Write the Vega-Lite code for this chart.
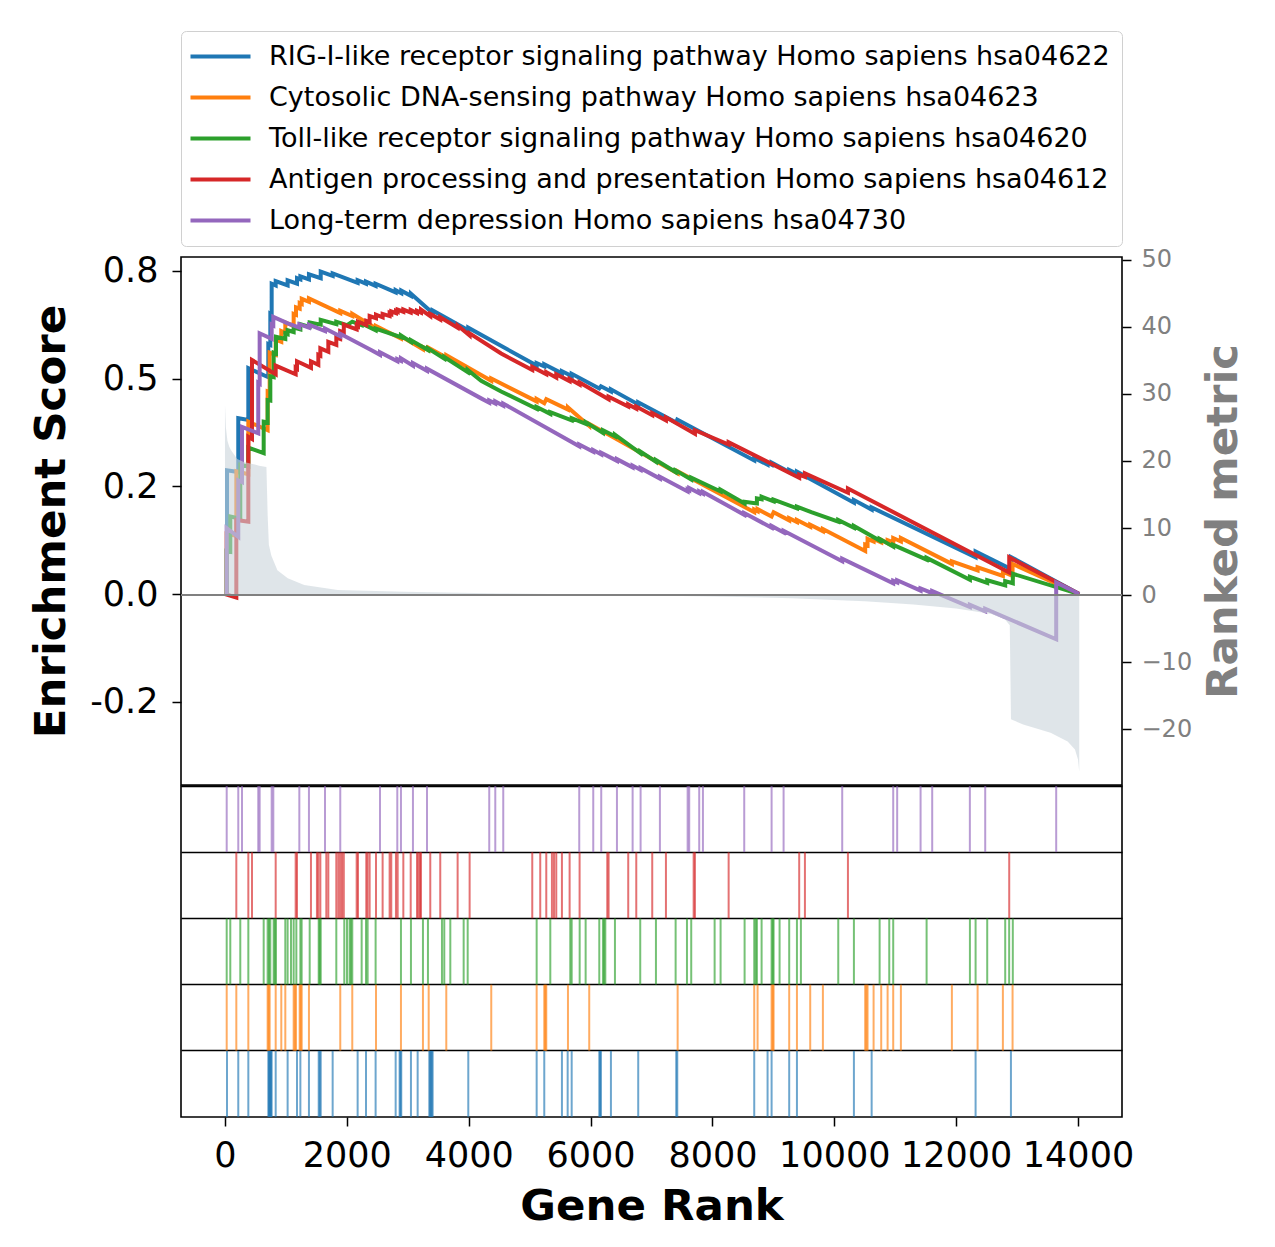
{
"$schema": "https://vega.github.io/schema/vega-lite/v6.json",
"background": "white",
"padding": {"left": 28, "top": 30, "right": 5, "bottom": 5},
"config": {
  "font": "DejaVu Sans",
  "view": {"stroke": "black", "strokeWidth": 1.6},
  "axis": {"domain": false, "grid": false, "labelFont": "DejaVu Sans", "titleFont": "DejaVu Sans", "labelFontSize": 35, "titleFontSize": 43.5, "titleFontWeight": "bold", "labelColor": "black", "titleColor": "black", "tickColor": "black", "tickSize": 9, "tickWidth": 1.5},
  "legend": {"labelFont": "DejaVu Sans"}
},
"bounds": "flush",
"spacing": 1,
"datasets": {
"metric": [
{"r":0,"m":28.3},{"r":15,"m":25},{"r":40,"m":23},{"r":70,"m":22.1},{"r":100,"m":21.6},{"r":200,"m":20.3},{"r":300,"m":19.9},{"r":430,"m":19.6},{"r":560,"m":19.3},{"r":680,"m":19.1},{"r":700,"m":12},{"r":720,"m":7.5},{"r":760,"m":5.9},{"r":860,"m":3.7},{"r":1030,"m":2.5},{"r":1300,"m":1.5},{"r":1850,"m":0.75},{"r":2940,"m":0.5},{"r":4530,"m":0.25},{"r":6000,"m":0.1},{"r":7000,"m":-0.05},{"r":8000,"m":-0.2},{"r":9300,"m":-0.45},{"r":10500,"m":-0.9},{"r":11300,"m":-1.4},{"r":12000,"m":-2.0},{"r":12580,"m":-2.8},{"r":12800,"m":-3.6},{"r":12880,"m":-4.5},{"r":12900,"m":-18.5},{"r":13100,"m":-19.3},{"r":13550,"m":-20.5},{"r":13830,"m":-21.8},{"r":13950,"m":-23},{"r":14000,"m":-24.5},{"r":14020,"m":-26.3}
],
"es": [
{"s":"hsa04622","r":0,"es":0},{"s":"hsa04622","r":33,"es":0},{"s":"hsa04622","r":33,"es":0.287},{"s":"hsa04622","r":218,"es":0.283},{"s":"hsa04622","r":218,"es":0.408},{"s":"hsa04622","r":383,"es":0.404},{"s":"hsa04622","r":383,"es":0.524},{"s":"hsa04622","r":711,"es":0.503},{"s":"hsa04622","r":711,"es":0.58},{"s":"hsa04622","r":744,"es":0.578},{"s":"hsa04622","r":744,"es":0.65},{"s":"hsa04622","r":766,"es":0.648},{"s":"hsa04622","r":766,"es":0.72},{"s":"hsa04622","r":832,"es":0.716},{"s":"hsa04622","r":832,"es":0.726},{"s":"hsa04622","r":1028,"es":0.716},{"s":"hsa04622","r":1028,"es":0.728},{"s":"hsa04622","r":1182,"es":0.72},{"s":"hsa04622","r":1182,"es":0.733},{"s":"hsa04622","r":1237,"es":0.73},{"s":"hsa04622","r":1237,"es":0.737},{"s":"hsa04622","r":1378,"es":0.73},{"s":"hsa04622","r":1378,"es":0.742},{"s":"hsa04622","r":1571,"es":0.733},{"s":"hsa04622","r":1571,"es":0.748},{"s":"hsa04622","r":1767,"es":0.738},{"s":"hsa04622","r":1767,"es":0.744},{"s":"hsa04622","r":2177,"es":0.722},{"s":"hsa04622","r":2177,"es":0.728},{"s":"hsa04622","r":2314,"es":0.72},{"s":"hsa04622","r":2314,"es":0.725},{"s":"hsa04622","r":2472,"es":0.715},{"s":"hsa04622","r":2472,"es":0.72},{"s":"hsa04622","r":2801,"es":0.7},{"s":"hsa04622","r":2801,"es":0.705},{"s":"hsa04622","r":2893,"es":0.698},{"s":"hsa04622","r":2893,"es":0.704},{"s":"hsa04622","r":3052,"es":0.692},{"s":"hsa04622","r":3052,"es":0.697},{"s":"hsa04622","r":3408,"es":0.652},{"s":"hsa04622","r":3408,"es":0.658},{"s":"hsa04622","r":3993,"es":0.612},{"s":"hsa04622","r":3993,"es":0.618},{"s":"hsa04622","r":5115,"es":0.53},{"s":"hsa04622","r":5115,"es":0.536},{"s":"hsa04622","r":5240,"es":0.528},{"s":"hsa04622","r":5240,"es":0.533},{"s":"hsa04622","r":5530,"es":0.512},{"s":"hsa04622","r":5530,"es":0.517},{"s":"hsa04622","r":5690,"es":0.506},{"s":"hsa04622","r":5690,"es":0.511},{"s":"hsa04622","r":6143,"es":0.477},{"s":"hsa04622","r":6170,"es":0.482},{"s":"hsa04622","r":6334,"es":0.47},{"s":"hsa04622","r":6334,"es":0.475},{"s":"hsa04622","r":6782,"es":0.44},{"s":"hsa04622","r":6782,"es":0.445},{"s":"hsa04622","r":7406,"es":0.398},{"s":"hsa04622","r":7423,"es":0.405},{"s":"hsa04622","r":8686,"es":0.31},{"s":"hsa04622","r":8686,"es":0.316},{"s":"hsa04622","r":8905,"es":0.3},{"s":"hsa04622","r":8905,"es":0.305},{"s":"hsa04622","r":8971,"es":0.3},{"s":"hsa04622","r":8971,"es":0.305},{"s":"hsa04622","r":9260,"es":0.283},{"s":"hsa04622","r":9260,"es":0.288},{"s":"hsa04622","r":9387,"es":0.279},{"s":"hsa04622","r":9387,"es":0.284},{"s":"hsa04622","r":10322,"es":0.212},{"s":"hsa04622","r":10322,"es":0.218},{"s":"hsa04622","r":10613,"es":0.196},{"s":"hsa04622","r":10613,"es":0.201},{"s":"hsa04622","r":12319,"es":0.085},{"s":"hsa04622","r":12319,"es":0.099},{"s":"hsa04622","r":12899,"es":0.058},{"s":"hsa04622","r":12899,"es":0.086},{"s":"hsa04622","r":14020,"es":0},

{"s":"hsa04623","r":0,"es":0},{"s":"hsa04623","r":28,"es":0},{"s":"hsa04623","r":28,"es":0.14},{"s":"hsa04623","r":186,"es":0.135},{"s":"hsa04623","r":186,"es":0.285},{"s":"hsa04623","r":383,"es":0.278},{"s":"hsa04623","r":383,"es":0.4},{"s":"hsa04623","r":700,"es":0.38},{"s":"hsa04623","r":700,"es":0.47},{"s":"hsa04623","r":733,"es":0.468},{"s":"hsa04623","r":733,"es":0.56},{"s":"hsa04623","r":832,"es":0.555},{"s":"hsa04623","r":832,"es":0.59},{"s":"hsa04623","r":924,"es":0.585},{"s":"hsa04623","r":924,"es":0.61},{"s":"hsa04623","r":990,"es":0.606},{"s":"hsa04623","r":990,"es":0.63},{"s":"hsa04623","r":1127,"es":0.622},{"s":"hsa04623","r":1127,"es":0.65},{"s":"hsa04623","r":1165,"es":0.648},{"s":"hsa04623","r":1165,"es":0.665},{"s":"hsa04623","r":1226,"es":0.662},{"s":"hsa04623","r":1226,"es":0.675},{"s":"hsa04623","r":1259,"es":0.673},{"s":"hsa04623","r":1259,"es":0.685},{"s":"hsa04623","r":1378,"es":0.678},{"s":"hsa04623","r":1378,"es":0.686},{"s":"hsa04623","r":1892,"es":0.652},{"s":"hsa04623","r":1892,"es":0.657},{"s":"hsa04623","r":2089,"es":0.645},{"s":"hsa04623","r":2089,"es":0.65},{"s":"hsa04623","r":2478,"es":0.617},{"s":"hsa04623","r":2478,"es":0.622},{"s":"hsa04623","r":2888,"es":0.593},{"s":"hsa04623","r":2888,"es":0.598},{"s":"hsa04623","r":3249,"es":0.568},{"s":"hsa04623","r":3249,"es":0.573},{"s":"hsa04623","r":3343,"es":0.566},{"s":"hsa04623","r":3343,"es":0.571},{"s":"hsa04623","r":3632,"es":0.549},{"s":"hsa04623","r":3632,"es":0.554},{"s":"hsa04623","r":4370,"es":0.495},{"s":"hsa04623","r":4370,"es":0.5},{"s":"hsa04623","r":5115,"es":0.447},{"s":"hsa04623","r":5115,"es":0.453},{"s":"hsa04623","r":5240,"es":0.443},{"s":"hsa04623","r":5273,"es":0.452},{"s":"hsa04623","r":5629,"es":0.428},{"s":"hsa04623","r":5629,"es":0.433},{"s":"hsa04623","r":5978,"es":0.39},{"s":"hsa04623","r":5978,"es":0.395},{"s":"hsa04623","r":7429,"es":0.28},{"s":"hsa04623","r":7429,"es":0.285},{"s":"hsa04623","r":8686,"es":0.19},{"s":"hsa04623","r":8686,"es":0.196},{"s":"hsa04623","r":8741,"es":0.192},{"s":"hsa04623","r":8741,"es":0.197},{"s":"hsa04623","r":8971,"es":0.18},{"s":"hsa04623","r":9004,"es":0.19},{"s":"hsa04623","r":9260,"es":0.171},{"s":"hsa04623","r":9260,"es":0.176},{"s":"hsa04623","r":9387,"es":0.167},{"s":"hsa04623","r":9387,"es":0.172},{"s":"hsa04623","r":9605,"es":0.156},{"s":"hsa04623","r":9605,"es":0.161},{"s":"hsa04623","r":9813,"es":0.146},{"s":"hsa04623","r":9813,"es":0.151},{"s":"hsa04623","r":10507,"es":0.1},{"s":"hsa04623","r":10507,"es":0.115},{"s":"hsa04623","r":10546,"es":0.113},{"s":"hsa04623","r":10546,"es":0.128},{"s":"hsa04623","r":10645,"es":0.122},{"s":"hsa04623","r":10645,"es":0.128},{"s":"hsa04623","r":10770,"es":0.12},{"s":"hsa04623","r":10770,"es":0.126},{"s":"hsa04623","r":10875,"es":0.118},{"s":"hsa04623","r":10875,"es":0.125},{"s":"hsa04623","r":10967,"es":0.12},{"s":"hsa04623","r":10967,"es":0.13},{"s":"hsa04623","r":11093,"es":0.122},{"s":"hsa04623","r":11093,"es":0.13},{"s":"hsa04623","r":11930,"es":0.07},{"s":"hsa04623","r":11930,"es":0.076},{"s":"hsa04623","r":12352,"es":0.055},{"s":"hsa04623","r":12352,"es":0.062},{"s":"hsa04623","r":12767,"es":0.042},{"s":"hsa04623","r":12767,"es":0.052},{"s":"hsa04623","r":12926,"es":0.042},{"s":"hsa04623","r":12926,"es":0.07},{"s":"hsa04623","r":14020,"es":0},

{"s":"hsa04620","r":0,"es":0},{"s":"hsa04620","r":28,"es":0},{"s":"hsa04620","r":28,"es":0.1},{"s":"hsa04620","r":87,"es":0.098},{"s":"hsa04620","r":87,"es":0.18},{"s":"hsa04620","r":251,"es":0.175},{"s":"hsa04620","r":251,"es":0.3},{"s":"hsa04620","r":383,"es":0.296},{"s":"hsa04620","r":383,"es":0.34},{"s":"hsa04620","r":635,"es":0.327},{"s":"hsa04620","r":635,"es":0.4},{"s":"hsa04620","r":700,"es":0.398},{"s":"hsa04620","r":700,"es":0.45},{"s":"hsa04620","r":744,"es":0.449},{"s":"hsa04620","r":744,"es":0.505},{"s":"hsa04620","r":799,"es":0.503},{"s":"hsa04620","r":799,"es":0.56},{"s":"hsa04620","r":837,"es":0.558},{"s":"hsa04620","r":837,"es":0.597},{"s":"hsa04620","r":990,"es":0.592},{"s":"hsa04620","r":990,"es":0.605},{"s":"hsa04620","r":1028,"es":0.603},{"s":"hsa04620","r":1028,"es":0.612},{"s":"hsa04620","r":1127,"es":0.608},{"s":"hsa04620","r":1127,"es":0.618},{"s":"hsa04620","r":1237,"es":0.614},{"s":"hsa04620","r":1237,"es":0.626},{"s":"hsa04620","r":1390,"es":0.62},{"s":"hsa04620","r":1390,"es":0.63},{"s":"hsa04620","r":1571,"es":0.625},{"s":"hsa04620","r":1571,"es":0.636},{"s":"hsa04620","r":1827,"es":0.626},{"s":"hsa04620","r":1827,"es":0.632},{"s":"hsa04620","r":2002,"es":0.624},{"s":"hsa04620","r":2089,"es":0.632},{"s":"hsa04620","r":2243,"es":0.624},{"s":"hsa04620","r":2243,"es":0.628},{"s":"hsa04620","r":2472,"es":0.612},{"s":"hsa04620","r":2472,"es":0.616},{"s":"hsa04620","r":2888,"es":0.596},{"s":"hsa04620","r":2888,"es":0.6},{"s":"hsa04620","r":3052,"es":0.585},{"s":"hsa04620","r":3052,"es":0.589},{"s":"hsa04620","r":3331,"es":0.566},{"s":"hsa04620","r":3331,"es":0.57},{"s":"hsa04620","r":3599,"es":0.546},{"s":"hsa04620","r":3599,"es":0.55},{"s":"hsa04620","r":3983,"es":0.515},{"s":"hsa04620","r":3983,"es":0.52},{"s":"hsa04620","r":4204,"es":0.495},{"s":"hsa04620","r":4532,"es":0.47},{"s":"hsa04620","r":5115,"es":0.43},{"s":"hsa04620","r":5115,"es":0.434},{"s":"hsa04620","r":5339,"es":0.418},{"s":"hsa04620","r":5339,"es":0.422},{"s":"hsa04620","r":5690,"es":0.403},{"s":"hsa04620","r":5690,"es":0.408},{"s":"hsa04620","r":5919,"es":0.395},{"s":"hsa04620","r":5919,"es":0.399},{"s":"hsa04620","r":6203,"es":0.374},{"s":"hsa04620","r":6203,"es":0.38},{"s":"hsa04620","r":6400,"es":0.366},{"s":"hsa04620","r":6400,"es":0.37},{"s":"hsa04620","r":6815,"es":0.327},{"s":"hsa04620","r":6815,"es":0.331},{"s":"hsa04620","r":7073,"es":0.307},{"s":"hsa04620","r":7073,"es":0.311},{"s":"hsa04620","r":7396,"es":0.283},{"s":"hsa04620","r":7396,"es":0.287},{"s":"hsa04620","r":7652,"es":0.266},{"s":"hsa04620","r":7652,"es":0.27},{"s":"hsa04620","r":8134,"es":0.238},{"s":"hsa04620","r":8134,"es":0.242},{"s":"hsa04620","r":8528,"es":0.21},{"s":"hsa04620","r":8528,"es":0.214},{"s":"hsa04620","r":8730,"es":0.21},{"s":"hsa04620","r":8730,"es":0.222},{"s":"hsa04620","r":8807,"es":0.22},{"s":"hsa04620","r":8807,"es":0.226},{"s":"hsa04620","r":9004,"es":0.215},{"s":"hsa04620","r":9004,"es":0.219},{"s":"hsa04620","r":9387,"es":0.199},{"s":"hsa04620","r":9387,"es":0.203},{"s":"hsa04620","r":9622,"es":0.19},{"s":"hsa04620","r":10065,"es":0.168},{"s":"hsa04620","r":10065,"es":0.172},{"s":"hsa04620","r":10322,"es":0.154},{"s":"hsa04620","r":10322,"es":0.158},{"s":"hsa04620","r":10744,"es":0.124},{"s":"hsa04620","r":10744,"es":0.128},{"s":"hsa04620","r":10967,"es":0.11},{"s":"hsa04620","r":10967,"es":0.114},{"s":"hsa04620","r":11515,"es":0.08},{"s":"hsa04620","r":11515,"es":0.084},{"s":"hsa04620","r":12226,"es":0.033},{"s":"hsa04620","r":12226,"es":0.04},{"s":"hsa04620","r":12510,"es":0.026},{"s":"hsa04620","r":12510,"es":0.032},{"s":"hsa04620","r":12805,"es":0.02},{"s":"hsa04620","r":12805,"es":0.03},{"s":"hsa04620","r":12930,"es":0.025},{"s":"hsa04620","r":12930,"es":0.047},{"s":"hsa04620","r":14020,"es":0},

{"s":"hsa04612","r":0,"es":0},{"s":"hsa04612","r":186,"es":-0.008},{"s":"hsa04612","r":186,"es":0.172},{"s":"hsa04612","r":383,"es":0.168},{"s":"hsa04612","r":383,"es":0.365},{"s":"hsa04612","r":443,"es":0.36},{"s":"hsa04612","r":443,"es":0.543},{"s":"hsa04612","r":832,"es":0.51},{"s":"hsa04612","r":832,"es":0.53},{"s":"hsa04612","r":1160,"es":0.51},{"s":"hsa04612","r":1160,"es":0.525},{"s":"hsa04612","r":1182,"es":0.523},{"s":"hsa04612","r":1182,"es":0.54},{"s":"hsa04612","r":1411,"es":0.525},{"s":"hsa04612","r":1411,"es":0.54},{"s":"hsa04612","r":1532,"es":0.532},{"s":"hsa04612","r":1532,"es":0.555},{"s":"hsa04612","r":1565,"es":0.553},{"s":"hsa04612","r":1565,"es":0.57},{"s":"hsa04612","r":1696,"es":0.562},{"s":"hsa04612","r":1696,"es":0.585},{"s":"hsa04612","r":1827,"es":0.578},{"s":"hsa04612","r":1827,"es":0.595},{"s":"hsa04612","r":1890,"es":0.592},{"s":"hsa04612","r":1890,"es":0.61},{"s":"hsa04612","r":1950,"es":0.607},{"s":"hsa04612","r":1950,"es":0.625},{"s":"hsa04612","r":2161,"es":0.614},{"s":"hsa04612","r":2161,"es":0.624},{"s":"hsa04612","r":2183,"es":0.622},{"s":"hsa04612","r":2183,"es":0.632},{"s":"hsa04612","r":2319,"es":0.624},{"s":"hsa04612","r":2319,"es":0.634},{"s":"hsa04612","r":2374,"es":0.631},{"s":"hsa04612","r":2374,"es":0.645},{"s":"hsa04612","r":2478,"es":0.64},{"s":"hsa04612","r":2478,"es":0.648},{"s":"hsa04612","r":2587,"es":0.642},{"s":"hsa04612","r":2587,"es":0.65},{"s":"hsa04612","r":2702,"es":0.645},{"s":"hsa04612","r":2702,"es":0.652},{"s":"hsa04612","r":2729,"es":0.65},{"s":"hsa04612","r":2729,"es":0.656},{"s":"hsa04612","r":2806,"es":0.652},{"s":"hsa04612","r":2806,"es":0.657},{"s":"hsa04612","r":2834,"es":0.655},{"s":"hsa04612","r":2834,"es":0.66},{"s":"hsa04612","r":2927,"es":0.655},{"s":"hsa04612","r":2927,"es":0.66},{"s":"hsa04612","r":3048,"es":0.653},{"s":"hsa04612","r":3048,"es":0.659},{"s":"hsa04612","r":3151,"es":0.652},{"s":"hsa04612","r":3151,"es":0.657},{"s":"hsa04612","r":3217,"es":0.653},{"s":"hsa04612","r":3217,"es":0.66},{"s":"hsa04612","r":3369,"es":0.645},{"s":"hsa04612","r":3369,"es":0.65},{"s":"hsa04612","r":3533,"es":0.637},{"s":"hsa04612","r":3533,"es":0.642},{"s":"hsa04612","r":3818,"es":0.618},{"s":"hsa04612","r":3818,"es":0.623},{"s":"hsa04612","r":4015,"es":0.6},{"s":"hsa04612","r":4015,"es":0.605},{"s":"hsa04612","r":4532,"es":0.558},{"s":"hsa04612","r":5043,"es":0.52},{"s":"hsa04612","r":5043,"es":0.527},{"s":"hsa04612","r":5273,"es":0.51},{"s":"hsa04612","r":5273,"es":0.515},{"s":"hsa04612","r":5437,"es":0.502},{"s":"hsa04612","r":5437,"es":0.51},{"s":"hsa04612","r":5656,"es":0.494},{"s":"hsa04612","r":5656,"es":0.499},{"s":"hsa04612","r":5820,"es":0.486},{"s":"hsa04612","r":5820,"es":0.491},{"s":"hsa04612","r":6296,"es":0.452},{"s":"hsa04612","r":6296,"es":0.458},{"s":"hsa04612","r":6618,"es":0.435},{"s":"hsa04612","r":6618,"es":0.44},{"s":"hsa04612","r":6750,"es":0.43},{"s":"hsa04612","r":6750,"es":0.435},{"s":"hsa04612","r":7012,"es":0.415},{"s":"hsa04612","r":7012,"es":0.42},{"s":"hsa04612","r":7237,"es":0.403},{"s":"hsa04612","r":7237,"es":0.41},{"s":"hsa04612","r":7713,"es":0.372},{"s":"hsa04612","r":7713,"es":0.38},{"s":"hsa04612","r":8266,"es":0.347},{"s":"hsa04612","r":8266,"es":0.352},{"s":"hsa04612","r":9424,"es":0.27},{"s":"hsa04612","r":9424,"es":0.277},{"s":"hsa04612","r":9518,"es":0.272},{"s":"hsa04612","r":9518,"es":0.28},{"s":"hsa04612","r":10224,"es":0.235},{"s":"hsa04612","r":10224,"es":0.245},{"s":"hsa04612","r":12871,"es":0.05},{"s":"hsa04612","r":12871,"es":0.085},{"s":"hsa04612","r":14020,"es":0},

{"s":"hsa04730","r":0,"es":0},{"s":"hsa04730","r":28,"es":0},{"s":"hsa04730","r":28,"es":0.153},{"s":"hsa04730","r":218,"es":0.133},{"s":"hsa04730","r":218,"es":0.264},{"s":"hsa04730","r":279,"es":0.26},{"s":"hsa04730","r":279,"es":0.388},{"s":"hsa04730","r":546,"es":0.373},{"s":"hsa04730","r":546,"es":0.49},{"s":"hsa04730","r":569,"es":0.488},{"s":"hsa04730","r":569,"es":0.605},{"s":"hsa04730","r":766,"es":0.592},{"s":"hsa04730","r":766,"es":0.625},{"s":"hsa04730","r":793,"es":0.623},{"s":"hsa04730","r":793,"es":0.643},{"s":"hsa04730","r":1030,"es":0.628},{"s":"hsa04730","r":1220,"es":0.618},{"s":"hsa04730","r":1220,"es":0.626},{"s":"hsa04730","r":1378,"es":0.618},{"s":"hsa04730","r":1378,"es":0.625},{"s":"hsa04730","r":1641,"es":0.61},{"s":"hsa04730","r":1641,"es":0.616},{"s":"hsa04730","r":1892,"es":0.598},{"s":"hsa04730","r":1892,"es":0.604},{"s":"hsa04730","r":2398,"es":0.566},{"s":"hsa04730","r":2544,"es":0.555},{"s":"hsa04730","r":2544,"es":0.561},{"s":"hsa04730","r":2828,"es":0.54},{"s":"hsa04730","r":2828,"es":0.545},{"s":"hsa04730","r":2888,"es":0.541},{"s":"hsa04730","r":2888,"es":0.547},{"s":"hsa04730","r":3085,"es":0.53},{"s":"hsa04730","r":3085,"es":0.536},{"s":"hsa04730","r":3315,"es":0.518},{"s":"hsa04730","r":3315,"es":0.523},{"s":"hsa04730","r":4204,"es":0.454},{"s":"hsa04730","r":4337,"es":0.444},{"s":"hsa04730","r":4337,"es":0.449},{"s":"hsa04730","r":4436,"es":0.442},{"s":"hsa04730","r":4436,"es":0.447},{"s":"hsa04730","r":4567,"es":0.437},{"s":"hsa04730","r":4567,"es":0.442},{"s":"hsa04730","r":5814,"es":0.343},{"s":"hsa04730","r":5814,"es":0.347},{"s":"hsa04730","r":6044,"es":0.33},{"s":"hsa04730","r":6044,"es":0.334},{"s":"hsa04730","r":6175,"es":0.324},{"s":"hsa04730","r":6175,"es":0.328},{"s":"hsa04730","r":6433,"es":0.309},{"s":"hsa04730","r":6433,"es":0.313},{"s":"hsa04730","r":6690,"es":0.294},{"s":"hsa04730","r":6690,"es":0.298},{"s":"hsa04730","r":6821,"es":0.288},{"s":"hsa04730","r":6821,"es":0.292},{"s":"hsa04730","r":7138,"es":0.268},{"s":"hsa04730","r":7138,"es":0.272},{"s":"hsa04730","r":7593,"es":0.238},{"s":"hsa04730","r":7593,"es":0.243},{"s":"hsa04730","r":7619,"es":0.241},{"s":"hsa04730","r":7619,"es":0.246},{"s":"hsa04730","r":7783,"es":0.234},{"s":"hsa04730","r":7783,"es":0.238},{"s":"hsa04730","r":7844,"es":0.233},{"s":"hsa04730","r":7844,"es":0.237},{"s":"hsa04730","r":8522,"es":0.184},{"s":"hsa04730","r":8522,"es":0.188},{"s":"hsa04730","r":8971,"es":0.154},{"s":"hsa04730","r":8971,"es":0.158},{"s":"hsa04730","r":9168,"es":0.143},{"s":"hsa04730","r":9168,"es":0.147},{"s":"hsa04730","r":10130,"es":0.076},{"s":"hsa04730","r":10130,"es":0.082},{"s":"hsa04730","r":10967,"es":0.025},{"s":"hsa04730","r":10967,"es":0.031},{"s":"hsa04730","r":11032,"es":0.027},{"s":"hsa04730","r":11032,"es":0.032},{"s":"hsa04730","r":11416,"es":0.008},{"s":"hsa04730","r":11416,"es":0.013},{"s":"hsa04730","r":11607,"es":0.002},{"s":"hsa04730","r":11607,"es":0.007},{"s":"hsa04730","r":12225,"es":-0.03},{"s":"hsa04730","r":12225,"es":-0.025},{"s":"hsa04730","r":12477,"es":-0.04},{"s":"hsa04730","r":12477,"es":-0.034},{"s":"hsa04730","r":13642,"es":-0.105},{"s":"hsa04730","r":13642,"es":0.027},{"s":"hsa04730","r":14020,"es":0}
],
"hits": [
{"s":"hsa04730","r":28},{"s":"hsa04730","r":218},{"s":"hsa04730","r":279},{"s":"hsa04730","r":546},{"s":"hsa04730","r":569},{"s":"hsa04730","r":766},{"s":"hsa04730","r":793},{"s":"hsa04730","r":1220},{"s":"hsa04730","r":1378},{"s":"hsa04730","r":1641},{"s":"hsa04730","r":1892},{"s":"hsa04730","r":2544},{"s":"hsa04730","r":2828},{"s":"hsa04730","r":2888},{"s":"hsa04730","r":3085},{"s":"hsa04730","r":3315},{"s":"hsa04730","r":4337},{"s":"hsa04730","r":4436},{"s":"hsa04730","r":4567},{"s":"hsa04730","r":5814},{"s":"hsa04730","r":6044},{"s":"hsa04730","r":6175},{"s":"hsa04730","r":6433},{"s":"hsa04730","r":6690},{"s":"hsa04730","r":6821},{"s":"hsa04730","r":7138},{"s":"hsa04730","r":7593},{"s":"hsa04730","r":7619},{"s":"hsa04730","r":7783},{"s":"hsa04730","r":7844},{"s":"hsa04730","r":8522},{"s":"hsa04730","r":8971},{"s":"hsa04730","r":9168},{"s":"hsa04730","r":10130},{"s":"hsa04730","r":10967},{"s":"hsa04730","r":11032},{"s":"hsa04730","r":11416},{"s":"hsa04730","r":11607},{"s":"hsa04730","r":12225},{"s":"hsa04730","r":12477},{"s":"hsa04730","r":13642},
{"s":"hsa04612","r":186},{"s":"hsa04612","r":383},{"s":"hsa04612","r":443},{"s":"hsa04612","r":832},{"s":"hsa04612","r":1160},{"s":"hsa04612","r":1182},{"s":"hsa04612","r":1411},{"s":"hsa04612","r":1509},{"s":"hsa04612","r":1532},{"s":"hsa04612","r":1565},{"s":"hsa04612","r":1663},{"s":"hsa04612","r":1696},{"s":"hsa04612","r":1827},{"s":"hsa04612","r":1860},{"s":"hsa04612","r":1890},{"s":"hsa04612","r":1920},{"s":"hsa04612","r":1950},{"s":"hsa04612","r":2161},{"s":"hsa04612","r":2183},{"s":"hsa04612","r":2319},{"s":"hsa04612","r":2340},{"s":"hsa04612","r":2374},{"s":"hsa04612","r":2478},{"s":"hsa04612","r":2587},{"s":"hsa04612","r":2702},{"s":"hsa04612","r":2729},{"s":"hsa04612","r":2806},{"s":"hsa04612","r":2834},{"s":"hsa04612","r":2927},{"s":"hsa04612","r":3048},{"s":"hsa04612","r":3151},{"s":"hsa04612","r":3175},{"s":"hsa04612","r":3200},{"s":"hsa04612","r":3217},{"s":"hsa04612","r":3369},{"s":"hsa04612","r":3533},{"s":"hsa04612","r":3818},{"s":"hsa04612","r":4015},{"s":"hsa04612","r":5043},{"s":"hsa04612","r":5174},{"s":"hsa04612","r":5273},{"s":"hsa04612","r":5366},{"s":"hsa04612","r":5400},{"s":"hsa04612","r":5437},{"s":"hsa04612","r":5530},{"s":"hsa04612","r":5656},{"s":"hsa04612","r":5820},{"s":"hsa04612","r":6274},{"s":"hsa04612","r":6296},{"s":"hsa04612","r":6618},{"s":"hsa04612","r":6750},{"s":"hsa04612","r":7012},{"s":"hsa04612","r":7237},{"s":"hsa04612","r":7692},{"s":"hsa04612","r":7713},{"s":"hsa04612","r":8266},{"s":"hsa04612","r":9424},{"s":"hsa04612","r":9518},{"s":"hsa04612","r":10224},{"s":"hsa04612","r":12871},
{"s":"hsa04620","r":28},{"s":"hsa04620","r":87},{"s":"hsa04620","r":251},{"s":"hsa04620","r":383},{"s":"hsa04620","r":635},{"s":"hsa04620","r":700},{"s":"hsa04620","r":722},{"s":"hsa04620","r":744},{"s":"hsa04620","r":799},{"s":"hsa04620","r":818},{"s":"hsa04620","r":837},{"s":"hsa04620","r":990},{"s":"hsa04620","r":1028},{"s":"hsa04620","r":1083},{"s":"hsa04620","r":1127},{"s":"hsa04620","r":1171},{"s":"hsa04620","r":1237},{"s":"hsa04620","r":1258},{"s":"hsa04620","r":1390},{"s":"hsa04620","r":1538},{"s":"hsa04620","r":1555},{"s":"hsa04620","r":1571},{"s":"hsa04620","r":1827},{"s":"hsa04620","r":1958},{"s":"hsa04620","r":2002},{"s":"hsa04620","r":2045},{"s":"hsa04620","r":2067},{"s":"hsa04620","r":2089},{"s":"hsa04620","r":2243},{"s":"hsa04620","r":2314},{"s":"hsa04620","r":2341},{"s":"hsa04620","r":2472},{"s":"hsa04620","r":2888},{"s":"hsa04620","r":3052},{"s":"hsa04620","r":3249},{"s":"hsa04620","r":3331},{"s":"hsa04620","r":3561},{"s":"hsa04620","r":3599},{"s":"hsa04620","r":3698},{"s":"hsa04620","r":3917},{"s":"hsa04620","r":3983},{"s":"hsa04620","r":5115},{"s":"hsa04620","r":5339},{"s":"hsa04620","r":5667},{"s":"hsa04620","r":5690},{"s":"hsa04620","r":5821},{"s":"hsa04620","r":5919},{"s":"hsa04620","r":6143},{"s":"hsa04620","r":6203},{"s":"hsa04620","r":6222},{"s":"hsa04620","r":6242},{"s":"hsa04620","r":6400},{"s":"hsa04620","r":6815},{"s":"hsa04620","r":7073},{"s":"hsa04620","r":7396},{"s":"hsa04620","r":7582},{"s":"hsa04620","r":7652},{"s":"hsa04620","r":8036},{"s":"hsa04620","r":8134},{"s":"hsa04620","r":8528},{"s":"hsa04620","r":8686},{"s":"hsa04620","r":8710},{"s":"hsa04620","r":8730},{"s":"hsa04620","r":8807},{"s":"hsa04620","r":8971},{"s":"hsa04620","r":8990},{"s":"hsa04620","r":9004},{"s":"hsa04620","r":9102},{"s":"hsa04620","r":9260},{"s":"hsa04620","r":9387},{"s":"hsa04620","r":9452},{"s":"hsa04620","r":10065},{"s":"hsa04620","r":10322},{"s":"hsa04620","r":10744},{"s":"hsa04620","r":10902},{"s":"hsa04620","r":10967},{"s":"hsa04620","r":11515},{"s":"hsa04620","r":12226},{"s":"hsa04620","r":12319},{"s":"hsa04620","r":12510},{"s":"hsa04620","r":12805},{"s":"hsa04620","r":12870},{"s":"hsa04620","r":12930},
{"s":"hsa04623","r":28},{"s":"hsa04623","r":186},{"s":"hsa04623","r":383},{"s":"hsa04623","r":700},{"s":"hsa04623","r":717},{"s":"hsa04623","r":733},{"s":"hsa04623","r":832},{"s":"hsa04623","r":924},{"s":"hsa04623","r":990},{"s":"hsa04623","r":1127},{"s":"hsa04623","r":1146},{"s":"hsa04623","r":1165},{"s":"hsa04623","r":1226},{"s":"hsa04623","r":1243},{"s":"hsa04623","r":1259},{"s":"hsa04623","r":1378},{"s":"hsa04623","r":1892},{"s":"hsa04623","r":2089},{"s":"hsa04623","r":2478},{"s":"hsa04623","r":2888},{"s":"hsa04623","r":3249},{"s":"hsa04623","r":3343},{"s":"hsa04623","r":3632},{"s":"hsa04623","r":4370},{"s":"hsa04623","r":5115},{"s":"hsa04623","r":5240},{"s":"hsa04623","r":5257},{"s":"hsa04623","r":5273},{"s":"hsa04623","r":5629},{"s":"hsa04623","r":5978},{"s":"hsa04623","r":7429},{"s":"hsa04623","r":8686},{"s":"hsa04623","r":8741},{"s":"hsa04623","r":8971},{"s":"hsa04623","r":8990},{"s":"hsa04623","r":9004},{"s":"hsa04623","r":9260},{"s":"hsa04623","r":9387},{"s":"hsa04623","r":9605},{"s":"hsa04623","r":9813},{"s":"hsa04623","r":10507},{"s":"hsa04623","r":10527},{"s":"hsa04623","r":10546},{"s":"hsa04623","r":10645},{"s":"hsa04623","r":10770},{"s":"hsa04623","r":10875},{"s":"hsa04623","r":10967},{"s":"hsa04623","r":11093},{"s":"hsa04623","r":11930},{"s":"hsa04623","r":12352},{"s":"hsa04623","r":12767},{"s":"hsa04623","r":12926},
{"s":"hsa04622","r":33},{"s":"hsa04622","r":218},{"s":"hsa04622","r":383},{"s":"hsa04622","r":711},{"s":"hsa04622","r":722},{"s":"hsa04622","r":733},{"s":"hsa04622","r":744},{"s":"hsa04622","r":755},{"s":"hsa04622","r":766},{"s":"hsa04622","r":832},{"s":"hsa04622","r":1028},{"s":"hsa04622","r":1182},{"s":"hsa04622","r":1237},{"s":"hsa04622","r":1378},{"s":"hsa04622","r":1538},{"s":"hsa04622","r":1555},{"s":"hsa04622","r":1571},{"s":"hsa04622","r":1767},{"s":"hsa04622","r":2177},{"s":"hsa04622","r":2314},{"s":"hsa04622","r":2472},{"s":"hsa04622","r":2801},{"s":"hsa04622","r":2866},{"s":"hsa04622","r":2880},{"s":"hsa04622","r":2893},{"s":"hsa04622","r":3052},{"s":"hsa04622","r":3162},{"s":"hsa04622","r":3353},{"s":"hsa04622","r":3367},{"s":"hsa04622","r":3380},{"s":"hsa04622","r":3395},{"s":"hsa04622","r":3408},{"s":"hsa04622","r":3993},{"s":"hsa04622","r":5115},{"s":"hsa04622","r":5240},{"s":"hsa04622","r":5530},{"s":"hsa04622","r":5624},{"s":"hsa04622","r":5690},{"s":"hsa04622","r":6143},{"s":"hsa04622","r":6157},{"s":"hsa04622","r":6170},{"s":"hsa04622","r":6334},{"s":"hsa04622","r":6782},{"s":"hsa04622","r":7406},{"s":"hsa04622","r":7423},{"s":"hsa04622","r":8686},{"s":"hsa04622","r":8905},{"s":"hsa04622","r":8971},{"s":"hsa04622","r":9260},{"s":"hsa04622","r":9387},{"s":"hsa04622","r":10322},{"s":"hsa04622","r":10613},{"s":"hsa04622","r":12319},{"s":"hsa04622","r":12899}
]
},
"vconcat": [
{
  "width": 941, "height": 528,
  "layer": [
    {
      "data": {"name": "es"},
      "mark": {"type": "line", "strokeWidth": 4},
      "encoding": {
        "x": {"field": "r", "type": "quantitative", "scale": {"domain": [-722, 14722], "nice": false, "zero": false}, "axis": null},
        "y": {"field": "es", "type": "quantitative", "scale": {"domain": [-0.443, 0.782], "nice": false, "zero": false},
              "axis": {"orient": "left", "values": [-0.25, 0, 0.25, 0.5, 0.75], "labelExpr": "datum.value == 0.75 ? '0.8' : datum.value == 0.5 ? '0.5' : datum.value == 0.25 ? '0.2' : datum.value == 0 ? '0.0' : '-0.2'", "title": "Enrichment Score", "labelPadding": 14, "titlePadding": 16}},
        "color": {"field": "s", "type": "nominal",
                  "scale": {"domain": ["hsa04622", "hsa04623", "hsa04620", "hsa04612", "hsa04730"], "range": ["#1f77b4", "#ff7f0e", "#2ca02c", "#d62728", "#9467bd"]},
                  "legend": {"orient": "none", "legendX": 0, "legendY": -226, "title": null, "direction": "vertical",
                             "symbolType": "M-3,0H3", "symbolSize": 400, "symbolStrokeWidth": 4, "symbolOffset": 14, "labelOffset": 35,
                             "labelFontSize": 27, "labelColor": "black", "labelLimit": 1200, "rowPadding": 13, "padding": 12,
                             "strokeColor": "#d0d0d0", "fillColor": "white", "cornerRadius": 5,
                             "labelExpr": "datum.label == 'hsa04622' ? 'RIG-I-like receptor signaling pathway Homo sapiens hsa04622' : datum.label == 'hsa04623' ? 'Cytosolic DNA-sensing pathway Homo sapiens hsa04623' : datum.label == 'hsa04620' ? 'Toll-like receptor signaling pathway Homo sapiens hsa04620' : datum.label == 'hsa04612' ? 'Antigen processing and presentation Homo sapiens hsa04612' : 'Long-term depression Homo sapiens hsa04730'"}}
      }
    },
    {
      "data": {"name": "metric"},
      "layer": [
        {
          "mark": {"type": "area", "color": "#C9D3DB", "opacity": 0.6},
          "encoding": {
            "x": {"field": "r", "type": "quantitative", "scale": {"domain": [-722, 14722], "nice": false, "zero": false}, "axis": null},
            "y": {"field": "m", "type": "quantitative", "scale": {"domain": [-28.3, 50.4], "nice": false, "zero": false},
                  "axis": {"orient": "right", "values": [-20, -10, 0, 10, 20, 30, 40, 50], "title": "Ranked metric", "titleColor": "#808080", "labelColor": "#808080", "labelFontSize": 24, "labelPadding": 10, "titleAngle": 270, "titlePadding": 54}},
            "y2": {"datum": 0}
          }
        },
        {
          "mark": {"type": "rule", "color": "#808080", "strokeWidth": 1.5},
          "encoding": {"y": {"datum": 0}}
        }
      ]
    }
  ],
  "resolve": {"scale": {"y": "independent"}}
},
{
  "width": 941, "height": 331,
  "data": {"name": "hits"},
  "mark": {"type": "tick", "orient": "vertical", "thickness": 2, "size": 66, "opacity": 0.65},
  "encoding": {
    "x": {"field": "r", "type": "quantitative", "scale": {"domain": [-722, 14722], "nice": false, "zero": false},
          "axis": {"values": [0, 2000, 4000, 6000, 8000, 10000, 12000, 14000], "format": "d", "title": "Gene Rank", "labelPadding": 12, "titlePadding": 12}},
    "y": {"field": "s", "type": "nominal", "sort": ["hsa04730", "hsa04612", "hsa04620", "hsa04623", "hsa04622"], "scale": {"paddingInner": 0, "paddingOuter": 0},
          "axis": {"title": null, "labels": false, "ticks": false, "domain": false, "grid": true, "gridColor": "black", "gridWidth": 1.6, "gridOpacity": 1, "bandPosition": 0}},
    "color": {"field": "s", "type": "nominal", "scale": {"domain": ["hsa04622", "hsa04623", "hsa04620", "hsa04612", "hsa04730"], "range": ["#1f77b4", "#ff7f0e", "#2ca02c", "#d62728", "#9467bd"]}, "legend": null}
  }
}
]
}
